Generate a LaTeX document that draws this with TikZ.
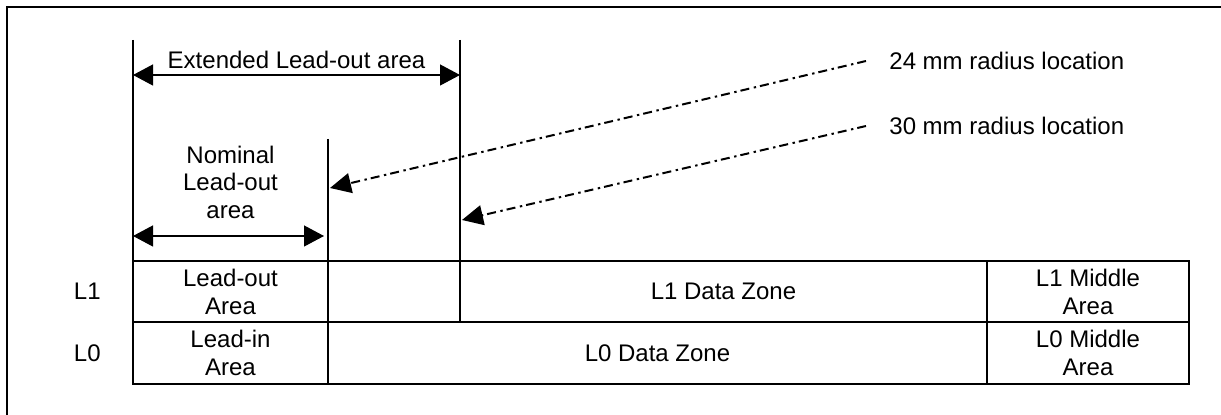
\documentclass[tikz,border=0pt]{standalone}
\usepackage{fontspec}
\setmainfont{Liberation Sans}
\usepackage{tikz}
\usetikzlibrary{arrows.meta,positioning,calc}
\tikzset{
  zonebox/.style={draw, line width=1pt, align=center, inner sep=0pt,
                  outer sep=0pt, minimum height=30.75pt,
                  minimum width=#1, font=\fontsize{12}{14}\selectfont},
  zonebox/.default=100pt,
  lyrnode/.style={inner sep=0pt, font=\fontsize{12}{14}\selectfont},
  txtnode/.style={align=center, inner sep=0pt,
                  font=\fontsize{12}{13.75}\selectfont},
  locnode/.style={anchor=west, inner xsep=11.5pt, inner ysep=0pt,
                  font=\fontsize{12}{14}\selectfont},
  vline/.style  ={line width=1pt},
  dimarr/.style ={{Triangle[length=10pt,width=10.5pt]}-{Triangle[length=10pt,width=10.5pt]},
                  line width=0.6pt},
  locarr/.style ={-{Triangle[length=10.5pt,width=10pt]}, line width=1pt,
                  dash pattern=on 4.5pt off 2pt on 1.2pt off 2.3pt},
}

\begin{document}
\begin{tikzpicture}[x=0.5pt,y=-0.5pt]
  \useasboundingbox (0,0) rectangle (1221,415);
  \draw[line width=1pt] (1221,7) -- (7,7) -- (7,415);
  \node[zonebox=97.5pt, anchor=north west] (lout) at (133,261) {Lead-out\\Area};
  \node[zonebox=66pt, right=0pt of lout] (gap) {};
  \node[zonebox=263.5pt, right=0pt of gap] (l1data) {L1 Data Zone};
  \node[zonebox=101pt, right=0pt of l1data] (l1mid) {L1 Middle\\Area};
  \node[zonebox=97.5pt, below=0pt of lout] (lin) {Lead-in\\Area};
  \node[zonebox=329.5pt, right=0pt of lin] (l0data) {L0 Data Zone};
  \node[zonebox=101pt, right=0pt of l0data] (l0mid) {L0 Middle\\Area};
  \node[lyrnode, left=16pt of lout] (l1) {L1};
  \node[lyrnode, left=16pt of lin] (l0) {L0};
  \coordinate (lft top) at (133,40);
  \coordinate (ext top) at (460,40);
  \coordinate (nom top) at (328,139);
  \draw[vline] (lft top) -- (lout.north west);
  \draw[vline] (ext top) -- (gap.north east);
  \draw[vline] (nom top) -- (gap.north west);
  \coordinate (ext l) at (133,75);
  \coordinate (ext r) at (460,75);
  \draw[dimarr] (ext l) -- node[txtnode, above=3pt] (extlbl) {Extended Lead-out area} (ext r);
  \coordinate (nom l) at (133,236);
  \coordinate (nom r) at (328,236);
  \draw[dimarr, shorten >=2pt] (nom l) -- node[txtnode, above=8.5pt] (nomlbl) {Nominal\\Lead-out\\area} (nom r);
  \node[locnode] (r24) at (866,61) {24 mm radius location};
  \node[locnode] (r30) at (866,126) {30 mm radius location};
  \coordinate (nom hit) at (330,188);
  \coordinate (ext hit) at (462,220);
  \draw[locarr] (r24.west) -- (nom hit);
  \draw[locarr] (r30.west) -- (ext hit);
\end{tikzpicture}
\end{document}
